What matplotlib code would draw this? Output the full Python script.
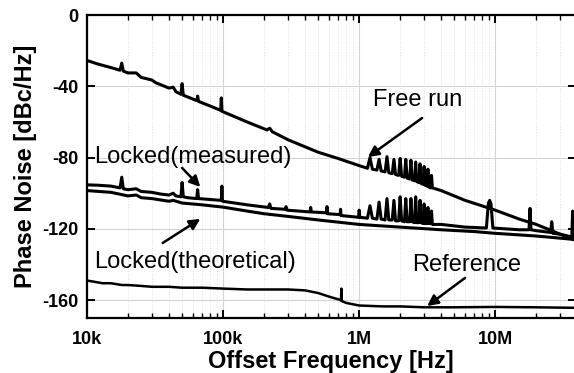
import matplotlib
matplotlib.use("Agg")
import matplotlib.pyplot as plt
from matplotlib.ticker import FixedLocator, LogLocator, NullFormatter

plt.rcParams['font.family'] = ['Liberation Sans', 'DejaVu Sans']

# free running oscillator
free_f = [10e3, 12e3, 15e3, 17.5e3, 18e3, 18.5e3, 20e3, 23e3, 25e3, 30e3, 32e3, 40e3, 43e3, 45e3,
          49e3, 50e3, 51e3, 55e3, 64e3, 65e3, 66e3, 80e3, 96e3, 97e3, 98e3, 150e3, 210e3, 220e3,
          230e3, 300e3, 500e3, 700e3, 1.0e6,
          1.15e6, 1.2e6, 1.25e6, 1.35e6, 1.4e6, 1.45e6, 1.55e6, 1.6e6, 1.65e6, 1.75e6, 1.8e6, 1.85e6,
          1.95e6, 2.0e6, 2.05e6, 2.15e6, 2.2e6, 2.25e6, 2.35e6, 2.4e6, 2.45e6, 2.55e6, 2.6e6, 2.65e6,
          2.75e6, 2.8e6, 2.85e6, 2.95e6, 3.0e6, 3.05e6, 3.15e6, 3.2e6, 3.25e6, 3.35e6, 3.4e6, 3.45e6,
          4e6, 6e6, 10e6, 15e6, 20e6, 25e6, 30e6, 39e6]
free_db = [-25.5, -27.5, -29.5, -31, -27, -31.5, -32.5, -32.5, -35, -36.5, -38, -41, -40.5, -43,
           -44.5, -38.5, -45, -46, -48, -45.5, -48.5, -51, -53.5, -46.5, -54, -60, -64.5, -63.5,
           -65.5, -70, -77, -80.5, -84.5,
           -86, -80, -86.5, -87, -81, -87.5, -88, -79.5, -88.5, -89, -81, -89.5,
           -90, -80.5, -90.5, -91, -81, -91.5, -92, -81.5, -92.5, -93, -82.5, -93.5,
           -94, -83.5, -94.5, -95, -85, -95.5, -96, -86.5, -96.5, -97, -90, -97,
           -98.5, -104, -109.5, -114.5, -117.5, -120.5, -123, -126.5]

# locked, measured
meas_f = [10e3, 12e3, 15e3, 17.5e3, 18e3, 18.5e3, 20e3, 23e3, 25e3, 30e3, 35e3, 40e3, 43e3, 45e3,
          49e3, 50e3, 51e3, 55e3, 64e3, 65e3, 66e3, 80e3, 97e3, 98e3, 99e3, 150e3, 215e3, 220e3,
          225e3, 285e3, 290e3, 295e3, 435e3, 440e3, 445e3, 575e3, 580e3, 585e3, 725e3, 730e3,
          735e3, 990e3, 1.0e6, 1.01e6,
          1.15e6, 1.2e6, 1.25e6, 1.35e6, 1.4e6, 1.45e6, 1.55e6, 1.6e6, 1.65e6, 1.75e6, 1.8e6, 1.85e6,
          1.95e6, 2.0e6, 2.05e6, 2.15e6, 2.2e6, 2.25e6, 2.35e6, 2.4e6, 2.45e6, 2.55e6, 2.6e6, 2.65e6,
          2.75e6, 2.8e6, 2.85e6, 2.95e6, 3.0e6, 3.05e6, 3.15e6, 3.2e6, 3.25e6, 3.35e6, 3.4e6, 3.45e6,
          4e6, 6e6, 8.6e6, 8.9e6, 9.1e6, 9.3e6, 9.6e6, 15e6, 17.7e6, 18e6, 18.3e6, 20e6, 25.5e6,
          26e6, 26.5e6, 30e6, 36.5e6, 37e6, 37.5e6, 39e6]
meas_db = [-95.3, -95.5, -96, -97, -91, -97.5, -98, -97.5, -99, -99.5, -100.5, -101, -100, -101.5,
           -102, -94, -102, -102.5, -103, -98, -103, -103.5, -104, -96, -104.5, -106.5, -108, -106,
           -108.5, -109, -107.5, -109.5, -110.5, -108, -110.5, -111, -107.5, -111.5, -112, -109,
           -112.5, -113.5, -109.5, -113.5,
           -114, -107, -114, -114.5, -105, -114.5, -115, -103, -115, -115, -104, -115.5,
           -115.5, -102, -115.5, -116, -103, -116, -116, -103, -116, -116.5, -102, -116.5,
           -116.5, -104, -116.5, -117, -106, -117, -117, -108, -117, -117, -110, -117.5,
           -117.5, -119, -119.5, -105.5, -104, -106, -119.5, -120.5, -120.5, -108.5, -120.5, -121,
           -122, -116, -122.5, -123, -124.5, -110, -124.5, -125.5]

# locked, theoretical
theo_f = [10e3, 15e3, 20e3, 23e3, 25e3, 30e3, 40e3, 43e3, 50e3, 70e3, 100e3, 150e3, 200e3, 300e3,
          500e3, 1e6, 2e6, 4e6, 7e6, 10e6, 20e6, 39e6]
theo_db = [-98.5, -99.5, -101.5, -101, -102.5, -103, -104.5, -104, -105.5, -106.5, -107.8, -110,
           -111.5, -113, -115, -117.5, -119, -120.5, -121.5, -122.5, -124, -126]

# reference
ref_f = [10e3, 11e3, 13e3, 15e3, 18e3, 20e3, 25e3, 30e3, 40e3, 50e3, 70e3, 100e3, 150e3, 200e3,
         300e3, 400e3, 500e3, 600e3, 700e3, 735e3, 740e3, 745e3, 800e3, 1e6, 1.5e6, 2e6, 3e6,
         5e6, 10e6, 20e6, 39e6]
ref_db = [-149, -149.5, -150.5, -150.5, -151.5, -151.5, -152, -152.5, -152.5, -153, -153, -153.5,
          -154, -154, -154, -154.5, -156, -158, -159.5, -160, -153.5, -160.5, -161.5, -163, -163.5,
          -163.5, -164, -164, -163.8, -164, -164.3]

xticks = [1e4, 1e5, 1e6, 1e7]
xtick_labels = ['10k', '100k', '1M', '10M']
yticks = [0, -40, -80, -120, -160]

fig = plt.figure(figsize=(5.74, 3.73), dpi=100)
ax = fig.add_axes([87 / 574, 1 - 318 / 373, 1.003 - 87 / 574, (318 - 15) / 373])

ax.semilogx(free_f, free_db, color='k', lw=2.2)
ax.semilogx(meas_f, meas_db, color='k', lw=2.2)
ax.semilogx(theo_f, theo_db, color='k', lw=2.2)
ax.semilogx(ref_f, ref_db, color='k', lw=1.8)

ax.set_xlim(1e4, 3.9e7)
ax.set_ylim(-170, 0)
ax.xaxis.set_major_locator(FixedLocator(xticks))
ax.set_xticklabels(xtick_labels)
ax.xaxis.set_minor_locator(LogLocator(base=10, subs=range(2, 10)))
ax.xaxis.set_minor_formatter(NullFormatter())
ax.set_yticks(yticks)
ax.set_yticklabels([str(v) for v in yticks])

ax.grid(True, which='major', color='#d4d4d4', lw=0.8)
ax.grid(True, which='minor', axis='x', color='#e0e0e0', lw=0.7, ls=':')
ax.set_axisbelow(True)

for s in ax.spines.values():
    s.set_linewidth(1.6)
ax.tick_params(which='both', direction='in', top=True, right=True)
ax.tick_params(which='major', length=6, width=1.4, labelsize=13, pad=9)
ax.tick_params(which='minor', length=3.5, width=1.0)
for lab in ax.get_xticklabels() + ax.get_yticklabels():
    lab.set_fontweight('bold')
ax.tick_params(axis='y', pad=6)

ax.set_xlabel('Offset Frequency [Hz]', fontsize=17, fontweight='bold', labelpad=2)
ax.set_ylabel('Phase Noise [dBc/Hz]', fontsize=17, fontweight='bold', labelpad=4)

arrow = dict(arrowstyle='-|>', color='k', lw=1.8, mutation_scale=16, shrinkA=0, shrinkB=0)
ax.text(2.7e6, -47.7, 'Free run', fontsize=17, ha='center', va='center')
ax.annotate('', xy=(1.16e6, -79.7), xytext=(2.9e6, -57.8), arrowprops=arrow)
ax.text(6.0e4, -79.7, 'Locked(measured)', fontsize=17, ha='center', va='center')
ax.annotate('', xy=(6.8e4, -96.5), xytext=(5.0e4, -85.8), arrowprops=arrow)
ax.text(6.2e4, -138.6, 'Locked(theoretical)', fontsize=17, ha='center', va='center')
ax.annotate('', xy=(6.8e4, -114.4), xytext=(3.6e4, -127.9), arrowprops=arrow)
ax.text(6.2e6, -140.3, 'Reference', fontsize=17, ha='center', va='center')
ax.annotate('', xy=(3.16e6, -163.3), xytext=(6.0e6, -147.5), arrowprops=arrow)

fig.savefig('out.png', dpi=100)
